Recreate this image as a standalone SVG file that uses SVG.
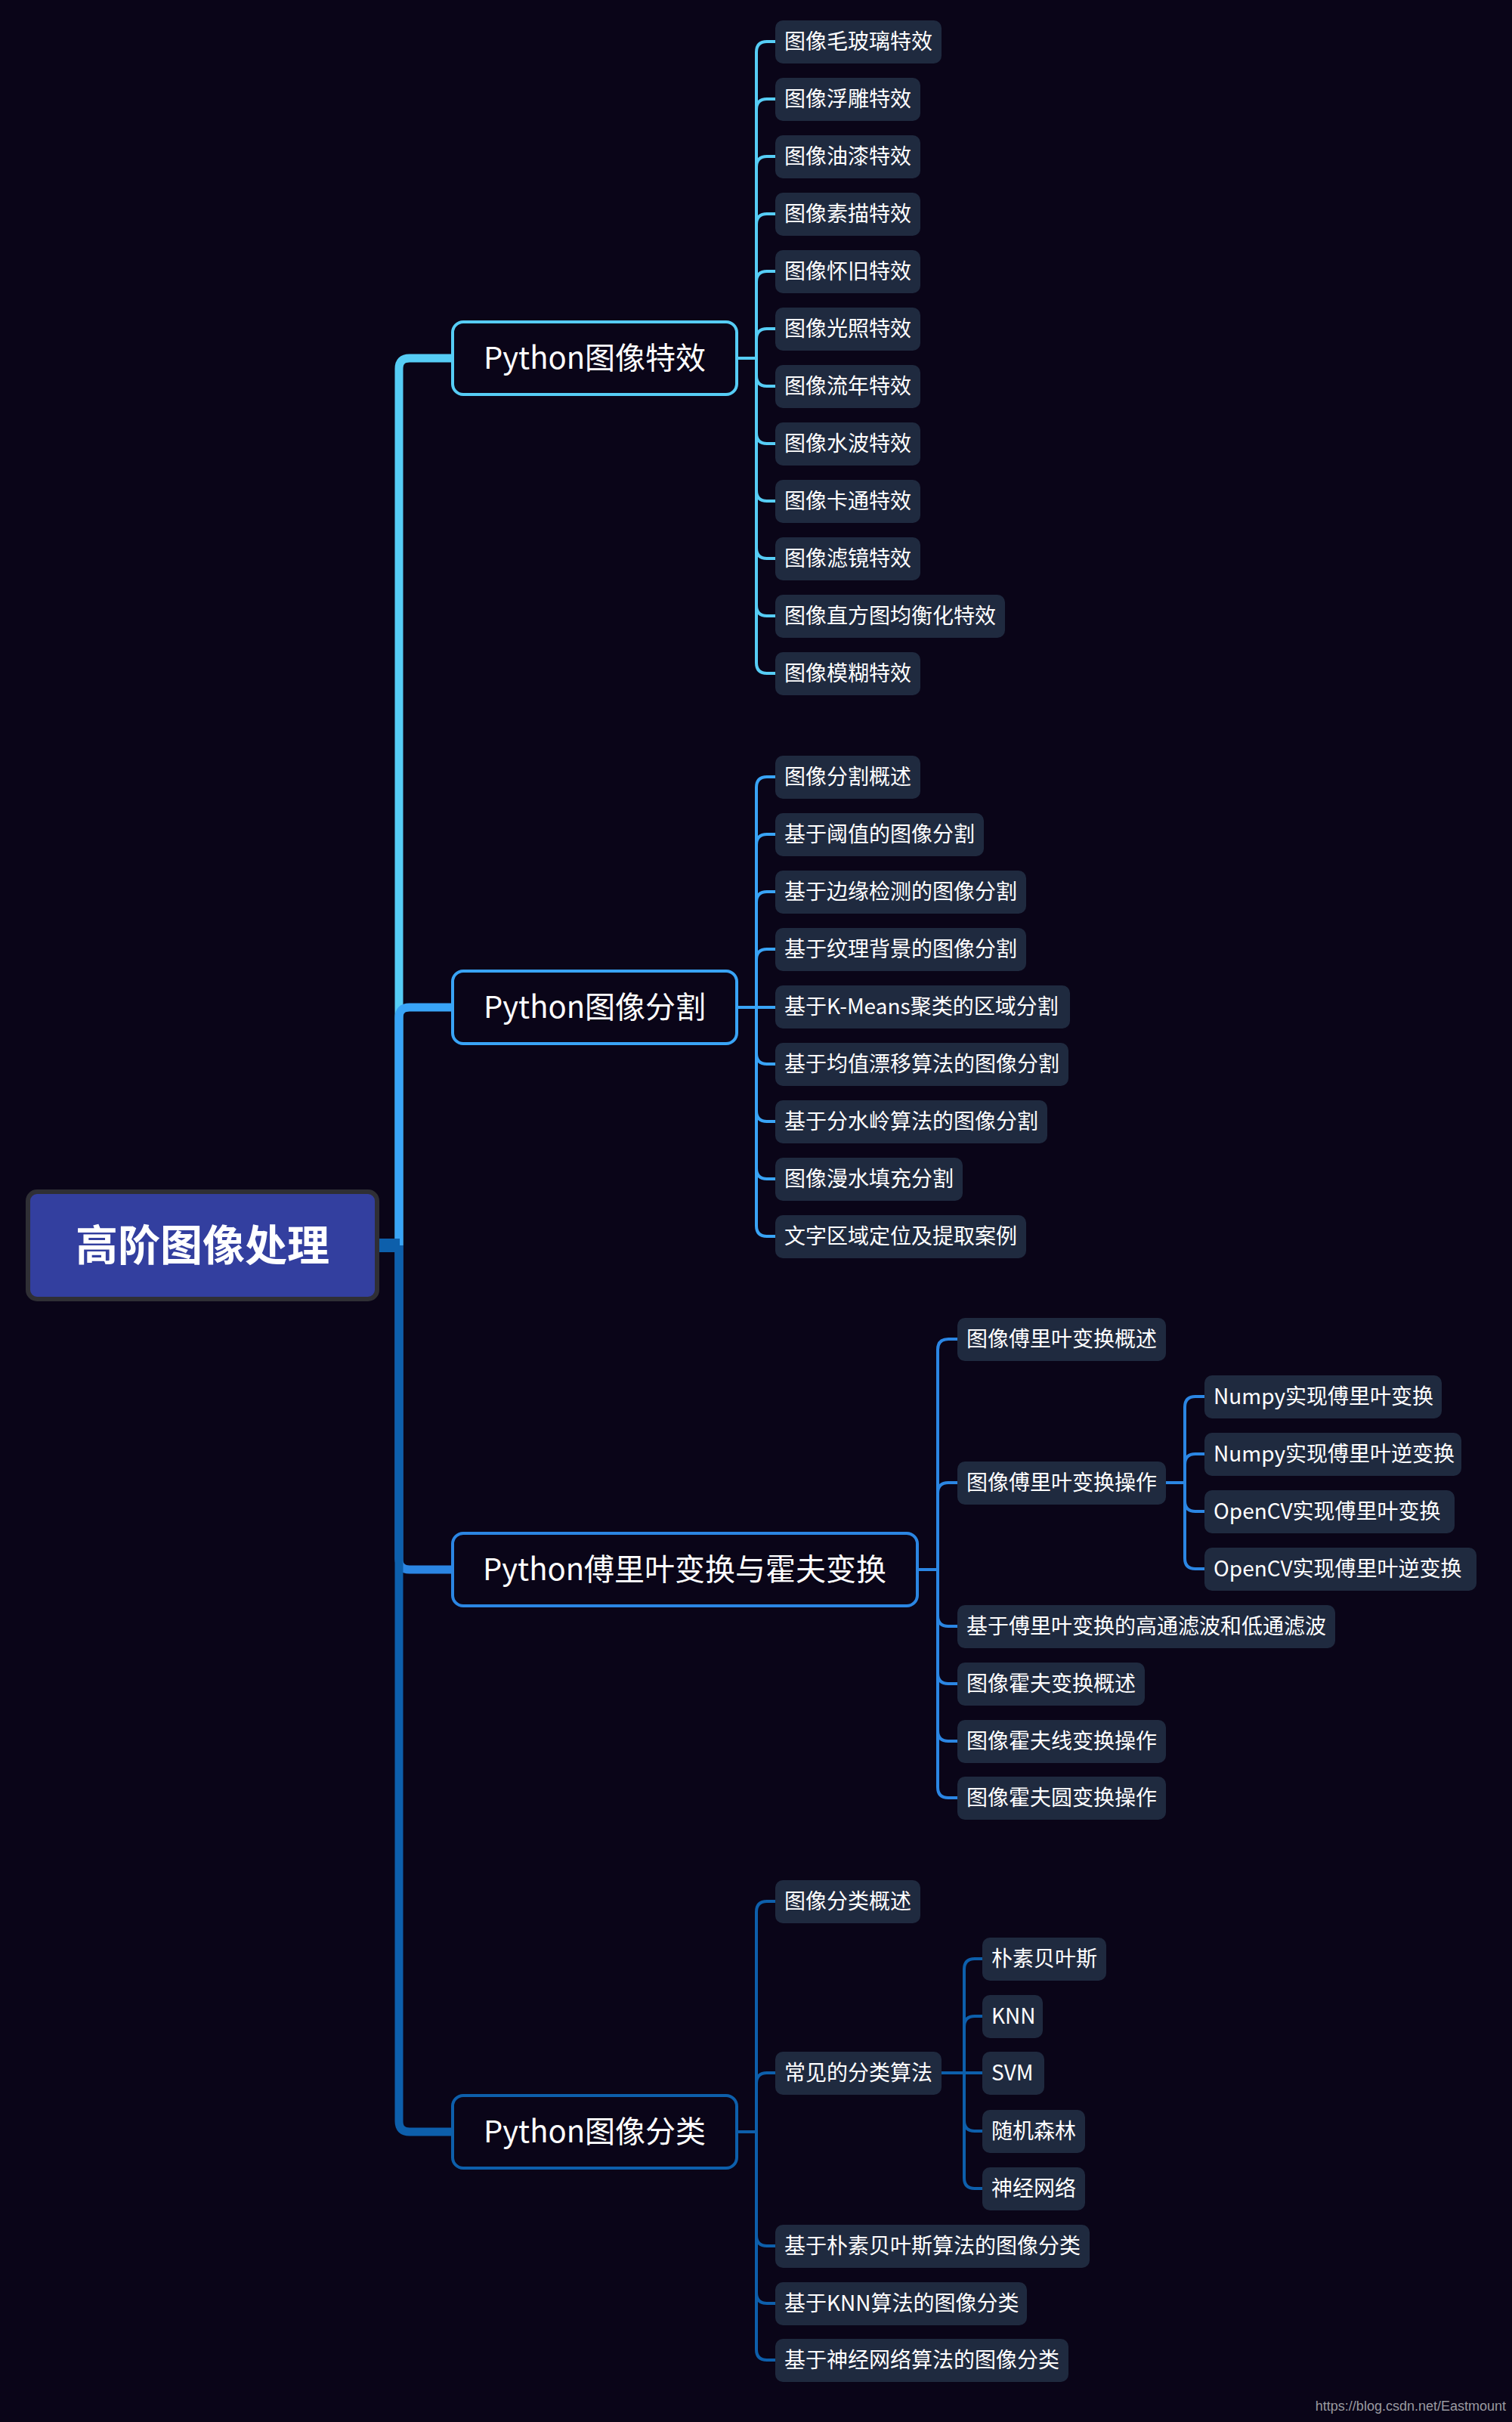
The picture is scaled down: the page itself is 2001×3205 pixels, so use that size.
<svg xmlns="http://www.w3.org/2000/svg" width="2001" height="3205" viewBox="0 0 2001 3205">
<style>
.bg{fill:#0a0518}
.leaf rect{fill:#1f2a3f}
.leaf text,.main text{font-family:"Noto Sans CJK SC","Noto Sans",sans-serif;fill:#fff}
.leaf text{font-size:28px}
.main rect{fill:#0a0518;stroke-width:4}
.main text{font-size:40px;text-anchor:middle}
.c1{stroke:#56cdf5}.c2{stroke:#39a4f6}.c3{stroke:#2b86e3}.c4{stroke:#0d5fab}
#connectors path{fill:none;stroke-width:4}
#connectors path.trunk{stroke-width:11}
</style>
<rect class="bg" x="0" y="0" width="2001" height="3205"/>
<g id="connectors">
<path class="trunk c1" d="M528,1648 V488 Q528,474 542,474 H599"/>
<path class="trunk c2" d="M528,1648 V1347 Q528,1333 542,1333 H599"/>
<path class="trunk c3" d="M528,1648 V2063 Q528,2077 542,2077 H599"/>
<path class="trunk c4" d="M528,1648 V2807 Q528,2821 542,2821 H599"/>
<rect x="499" y="1639" width="30" height="18" fill="#0d5fab"/>
<g class="c1">
<path class="c1" d="M975,474 H1001"/>
<path class="c1" d="M1001,474 V69 Q1001,55 1015,55 H1026"/>
<path class="c1" d="M1001,474 V145 Q1001,131 1015,131 H1026"/>
<path class="c1" d="M1001,474 V221 Q1001,207 1015,207 H1026"/>
<path class="c1" d="M1001,474 V297 Q1001,283 1015,283 H1026"/>
<path class="c1" d="M1001,474 V373 Q1001,359 1015,359 H1026"/>
<path class="c1" d="M1001,474 V449 Q1001,435 1015,435 H1026"/>
<path class="c1" d="M1001,474 V497 Q1001,511 1015,511 H1026"/>
<path class="c1" d="M1001,474 V573 Q1001,587 1015,587 H1026"/>
<path class="c1" d="M1001,474 V649 Q1001,663 1015,663 H1026"/>
<path class="c1" d="M1001,474 V725 Q1001,739 1015,739 H1026"/>
<path class="c1" d="M1001,474 V801 Q1001,815 1015,815 H1026"/>
<path class="c1" d="M1001,474 V877 Q1001,891 1015,891 H1026"/>
</g>
<path class="c2" d="M975,1333 H1026"/>
<path class="c2" d="M1001,1333 V1042 Q1001,1028 1015,1028 H1026"/>
<path class="c2" d="M1001,1333 V1118 Q1001,1104 1015,1104 H1026"/>
<path class="c2" d="M1001,1333 V1194 Q1001,1180 1015,1180 H1026"/>
<path class="c2" d="M1001,1333 V1270 Q1001,1256 1015,1256 H1026"/>
<path class="c2" d="M1001,1333 V1394 Q1001,1408 1015,1408 H1026"/>
<path class="c2" d="M1001,1333 V1470 Q1001,1484 1015,1484 H1026"/>
<path class="c2" d="M1001,1333 V1546 Q1001,1560 1015,1560 H1026"/>
<path class="c2" d="M1001,1333 V1622 Q1001,1636 1015,1636 H1026"/>
<path class="c3" d="M1214,2077 H1241"/>
<path class="c3" d="M1241,2077 V1786 Q1241,1772 1255,1772 H1267"/>
<path class="c3" d="M1241,2077 V1976 Q1241,1962 1255,1962 H1267"/>
<path class="c3" d="M1241,2077 V2138 Q1241,2152 1255,2152 H1267"/>
<path class="c3" d="M1241,2077 V2214 Q1241,2228 1255,2228 H1267"/>
<path class="c3" d="M1241,2077 V2290 Q1241,2304 1255,2304 H1267"/>
<path class="c3" d="M1241,2077 V2365 Q1241,2379 1255,2379 H1267"/>
<path class="c3" d="M1543,1962 H1568"/>
<path class="c3" d="M1568,1962 V1862 Q1568,1848 1582,1848 H1594"/>
<path class="c3" d="M1568,1962 V1938 Q1568,1924 1582,1924 H1594"/>
<path class="c3" d="M1568,1962 V1986 Q1568,2000 1582,2000 H1594"/>
<path class="c3" d="M1568,1962 V2062 Q1568,2076 1582,2076 H1594"/>
<path class="c4" d="M975,2821 H1001"/>
<path class="c4" d="M1001,2821 V2530 Q1001,2516 1015,2516 H1026"/>
<path class="c4" d="M1001,2821 V2757 Q1001,2743 1015,2743 H1026"/>
<path class="c4" d="M1001,2821 V2958 Q1001,2972 1015,2972 H1026"/>
<path class="c4" d="M1001,2821 V3034 Q1001,3048 1015,3048 H1026"/>
<path class="c4" d="M1001,2821 V3109 Q1001,3123 1015,3123 H1026"/>
<path class="c4" d="M1246,2743 H1300"/>
<path class="c4" d="M1276,2743 V2606 Q1276,2592 1290,2592 H1300"/>
<path class="c4" d="M1276,2743 V2682 Q1276,2668 1290,2668 H1300"/>
<path class="c4" d="M1276,2743 V2806 Q1276,2820 1290,2820 H1300"/>
<path class="c4" d="M1276,2743 V2882 Q1276,2896 1290,2896 H1300"/>
</g>
<g id="root">
<rect x="37" y="1577" width="462" height="142" rx="12" fill="#333f9f" stroke="#2f2f35" stroke-width="6"/>
<text x="268" y="1668" font-family="'Noto Sans CJK SC',sans-serif" font-size="56" font-weight="bold" fill="#fff" text-anchor="middle">高阶图像处理</text>
</g>
<g id="m1" class="main"><rect class="c1" x="599" y="426" width="376" height="96" rx="14"/><text x="787" y="488">Python图像特效</text></g>
<g id="m2" class="main"><rect class="c2" x="599" y="1285" width="376" height="96" rx="14"/><text x="787" y="1347">Python图像分割</text></g>
<g id="m3" class="main"><rect class="c3" x="599" y="2029" width="615" height="96" rx="14"/><text x="906" y="2091">Python傅里叶变换与霍夫变换</text></g>
<g id="m4" class="main"><rect class="c4" x="599" y="2773" width="376" height="96" rx="14"/><text x="787" y="2835">Python图像分类</text></g>
<g id="a1" class="leaf"><rect x="1026" y="27" width="220" height="57" rx="10"/><text x="1038" y="65">图像毛玻璃特效</text></g>
<g id="a2" class="leaf"><rect x="1026" y="103" width="192" height="57" rx="10"/><text x="1038" y="141">图像浮雕特效</text></g>
<g id="a3" class="leaf"><rect x="1026" y="179" width="192" height="57" rx="10"/><text x="1038" y="217">图像油漆特效</text></g>
<g id="a4" class="leaf"><rect x="1026" y="255" width="192" height="57" rx="10"/><text x="1038" y="293">图像素描特效</text></g>
<g id="a5" class="leaf"><rect x="1026" y="331" width="192" height="57" rx="10"/><text x="1038" y="369">图像怀旧特效</text></g>
<g id="a6" class="leaf"><rect x="1026" y="407" width="192" height="57" rx="10"/><text x="1038" y="445">图像光照特效</text></g>
<g id="a7" class="leaf"><rect x="1026" y="483" width="192" height="57" rx="10"/><text x="1038" y="521">图像流年特效</text></g>
<g id="a8" class="leaf"><rect x="1026" y="559" width="192" height="57" rx="10"/><text x="1038" y="597">图像水波特效</text></g>
<g id="a9" class="leaf"><rect x="1026" y="635" width="192" height="57" rx="10"/><text x="1038" y="673">图像卡通特效</text></g>
<g id="a10" class="leaf"><rect x="1026" y="711" width="192" height="57" rx="10"/><text x="1038" y="749">图像滤镜特效</text></g>
<g id="a11" class="leaf"><rect x="1026" y="787" width="304" height="57" rx="10"/><text x="1038" y="825">图像直方图均衡化特效</text></g>
<g id="a12" class="leaf"><rect x="1026" y="863" width="192" height="57" rx="10"/><text x="1038" y="901">图像模糊特效</text></g>
<g id="b1" class="leaf"><rect x="1026" y="1000" width="192" height="57" rx="10"/><text x="1038" y="1038">图像分割概述</text></g>
<g id="b2" class="leaf"><rect x="1026" y="1076" width="276" height="57" rx="10"/><text x="1038" y="1114">基于阈值的图像分割</text></g>
<g id="b3" class="leaf"><rect x="1026" y="1152" width="332" height="57" rx="10"/><text x="1038" y="1190">基于边缘检测的图像分割</text></g>
<g id="b4" class="leaf"><rect x="1026" y="1228" width="332" height="57" rx="10"/><text x="1038" y="1266">基于纹理背景的图像分割</text></g>
<g id="b5" class="leaf"><rect x="1026" y="1304" width="390" height="57" rx="10"/><text x="1038" y="1342">基于K-Means聚类的区域分割</text></g>
<g id="b6" class="leaf"><rect x="1026" y="1380" width="388" height="57" rx="10"/><text x="1038" y="1418">基于均值漂移算法的图像分割</text></g>
<g id="b7" class="leaf"><rect x="1026" y="1456" width="360" height="57" rx="10"/><text x="1038" y="1494">基于分水岭算法的图像分割</text></g>
<g id="b8" class="leaf"><rect x="1026" y="1532" width="248" height="57" rx="10"/><text x="1038" y="1570">图像漫水填充分割</text></g>
<g id="b9" class="leaf"><rect x="1026" y="1608" width="332" height="57" rx="10"/><text x="1038" y="1646">文字区域定位及提取案例</text></g>
<g id="c1n" class="leaf"><rect x="1267" y="1744" width="276" height="57" rx="10"/><text x="1279" y="1782">图像傅里叶变换概述</text></g>
<g id="c2n" class="leaf"><rect x="1267" y="1934" width="276" height="57" rx="10"/><text x="1279" y="1972">图像傅里叶变换操作</text></g>
<g id="c3n" class="leaf"><rect x="1267" y="2124" width="500" height="57" rx="10"/><text x="1279" y="2162">基于傅里叶变换的高通滤波和低通滤波</text></g>
<g id="c4n" class="leaf"><rect x="1267" y="2200" width="248" height="57" rx="10"/><text x="1279" y="2238">图像霍夫变换概述</text></g>
<g id="c5n" class="leaf"><rect x="1267" y="2276" width="276" height="57" rx="10"/><text x="1279" y="2314">图像霍夫线变换操作</text></g>
<g id="c6n" class="leaf"><rect x="1267" y="2351" width="276" height="57" rx="10"/><text x="1279" y="2389">图像霍夫圆变换操作</text></g>
<g id="d1" class="leaf"><rect x="1594" y="1820" width="314" height="57" rx="10"/><text x="1606" y="1858">Numpy实现傅里叶变换</text></g>
<g id="d2" class="leaf"><rect x="1594" y="1896" width="340" height="57" rx="10"/><text x="1606" y="1934">Numpy实现傅里叶逆变换</text></g>
<g id="d3" class="leaf"><rect x="1594" y="1972" width="331" height="57" rx="10"/><text x="1606" y="2010">OpenCV实现傅里叶变换</text></g>
<g id="d4" class="leaf"><rect x="1594" y="2048" width="360" height="57" rx="10"/><text x="1606" y="2086">OpenCV实现傅里叶逆变换</text></g>
<g id="e1" class="leaf"><rect x="1026" y="2488" width="192" height="57" rx="10"/><text x="1038" y="2526">图像分类概述</text></g>
<g id="e2" class="leaf"><rect x="1026" y="2715" width="220" height="57" rx="10"/><text x="1038" y="2753">常见的分类算法</text></g>
<g id="e3" class="leaf"><rect x="1026" y="2944" width="416" height="57" rx="10"/><text x="1038" y="2982">基于朴素贝叶斯算法的图像分类</text></g>
<g id="e4" class="leaf"><rect x="1026" y="3020" width="333" height="57" rx="10"/><text x="1038" y="3058">基于KNN算法的图像分类</text></g>
<g id="e5" class="leaf"><rect x="1026" y="3095" width="388" height="57" rx="10"/><text x="1038" y="3133">基于神经网络算法的图像分类</text></g>
<g id="f1" class="leaf"><rect x="1300" y="2564" width="164" height="57" rx="10"/><text x="1312" y="2602">朴素贝叶斯</text></g>
<g id="f2" class="leaf"><rect x="1300" y="2640" width="80" height="57" rx="10"/><text x="1312" y="2678">KNN</text></g>
<g id="f3" class="leaf"><rect x="1300" y="2715" width="82" height="57" rx="10"/><text x="1312" y="2753">SVM</text></g>
<g id="f4" class="leaf"><rect x="1300" y="2792" width="136" height="57" rx="10"/><text x="1312" y="2830">随机森林</text></g>
<g id="f5" class="leaf"><rect x="1300" y="2868" width="136" height="57" rx="10"/><text x="1312" y="2906">神经网络</text></g>
<text x="1993" y="3190" font-family="'Liberation Sans',sans-serif" font-size="18" fill="#9a9aa0" text-anchor="end">https://blog.csdn.net/Eastmount</text>
</svg>
